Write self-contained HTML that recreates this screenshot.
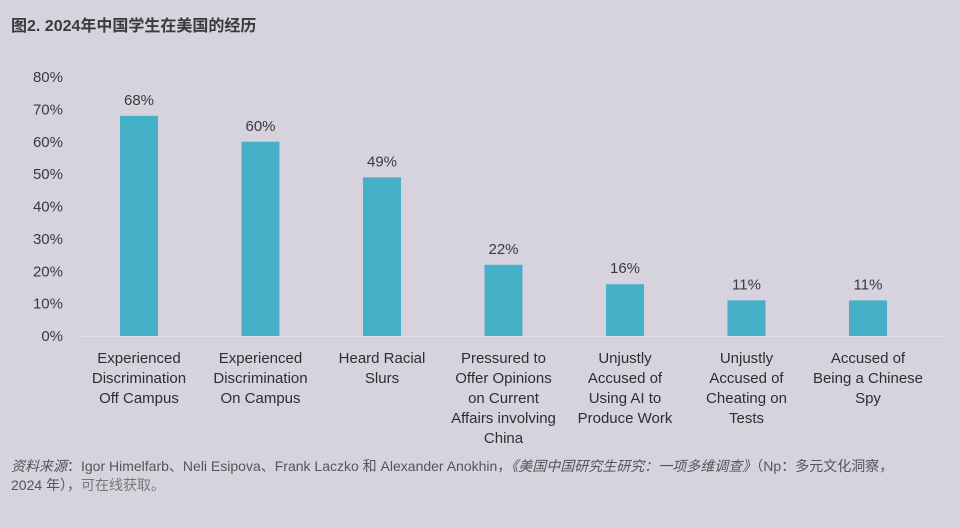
<!DOCTYPE html>
<html><head><meta charset="utf-8"><style>
html,body{margin:0;padding:0;background:#d7d3de;}
body{width:960px;height:527px;overflow:hidden;position:relative;font-family:"Liberation Sans","Noto Sans CJK SC",sans-serif;color:#333;}
#title{position:absolute;left:11px;top:12px;font-size:16px;font-weight:bold;color:#3a3a3a;}
#source{position:absolute;left:11px;top:457px;font-size:14px;line-height:19px;color:#555;width:940px;}
svg{position:absolute;left:0;top:0;}
</style></head><body>
<div id="title">图2. 2024年中国学生在美国的经历</div>
<svg id="chart" width="960" height="527"></svg>
<div id="source"><i>资料来源</i>：Igor Himelfarb、Neli Esipova、Frank Laczko 和 Alexander Anokhin，<i>《美国中国研究生研究：一项多维调查》</i>（Np：多元文化洞察，<br>2024 年），<span style="color:#777">可在线获取。</span></div>
<script>
const categories=[["Experienced","Discrimination","Off Campus"],["Experienced","Discrimination","On Campus"],["Heard Racial","Slurs"],["Pressured to","Offer Opinions","on Current","Affairs involving","China"],["Unjustly","Accused of","Using AI to","Produce Work"],["Unjustly","Accused of","Cheating on","Tests"],["Accused of","Being a Chinese","Spy"]];
const values=[68,60,49,22,16,11,11];
const ticks=[0,10,20,30,40,50,60,70,80];
const NS="http://www.w3.org/2000/svg";
const svg=document.getElementById('chart');
const y0=336,y80=77;
function y(v){return y0-(v/80)*(y0-y80);}
function x(i){return 139+i*121.5;}
function mk(t,a,txt){const e=document.createElementNS(NS,t);for(const k in a)e.setAttribute(k,a[k]);if(txt!==undefined)e.textContent=txt;svg.appendChild(e);return e;}
const base=mk('line',{x1:80,x2:945,y1:y0+0.5,y2:y0+0.5,stroke:'#e2dfe8','stroke-width':1});


ticks.forEach(t=>{
 const e=mk('text',{x:63,y:y(t)+5,'text-anchor':'end','font-size':15,fill:'#3a3a3a'},t+'%');
 
 
});
values.forEach((v,i)=>{
 const r=mk('rect',{x:x(i)-19,y:y(v),width:38,height:y0-y(v),fill:'#45b0c8'});
 
 
 const l=mk('text',{x:x(i),y:y(v)-11,'text-anchor':'middle','font-size':15,fill:'#3a3a3a'},v+'%');
 
 
 categories[i].forEach((s,j)=>{
  const c=mk('text',{x:x(i),y:363+j*20,'text-anchor':'middle','font-size':15,fill:'#2e2e2e'},s);
  
  
 });
});
</script>
</body></html>
